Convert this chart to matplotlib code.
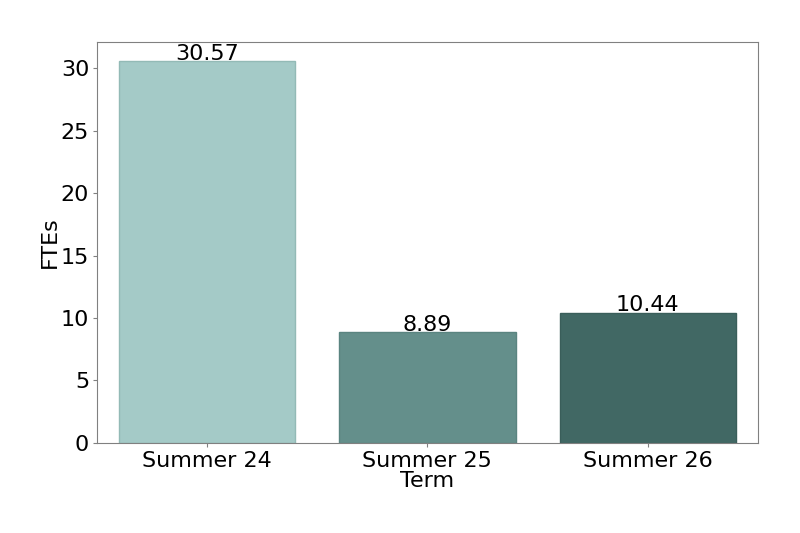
import matplotlib
matplotlib.use("Agg")
import matplotlib.pyplot as plt

terms = ["Summer 24", "Summer 25", "Summer 26"]
ftes = [30.57, 8.89, 10.44]
colors = ["#a4cac7", "#648f8b", "#416864"]
edges = ["#93bab6", "#5a8480", "#3a5e5a"]

fig = plt.figure(figsize=(8, 5.33), dpi=100)
ax = fig.add_axes([0.121, 0.169, 0.8265, 0.752])
x = list(range(len(terms)))
bars = ax.bar(x, ftes, width=0.8, color=colors, edgecolor=edges, linewidth=1)
for xi, v in zip(x, ftes):
    ax.text(xi, v + 0.1, f"{v:.2f}", ha="center", va="baseline", fontsize=16)
ax.set_xlim(-0.5, 2.5)
ax.set_ylim(0, 32.1)
ax.set_xticks(x)
ax.set_xticklabels(terms)
ax.set_yticks([0, 5, 10, 15, 20, 25, 30])
ax.tick_params(labelsize=16, color="#808080", length=3, pad=2.5)
ax.set_xlabel("Term", fontsize=16, labelpad=0)
ax.set_ylabel("FTEs", fontsize=16, labelpad=1)
for s in ax.spines.values():
    s.set_color("#808080")
fig.savefig("out.png", dpi=100)
